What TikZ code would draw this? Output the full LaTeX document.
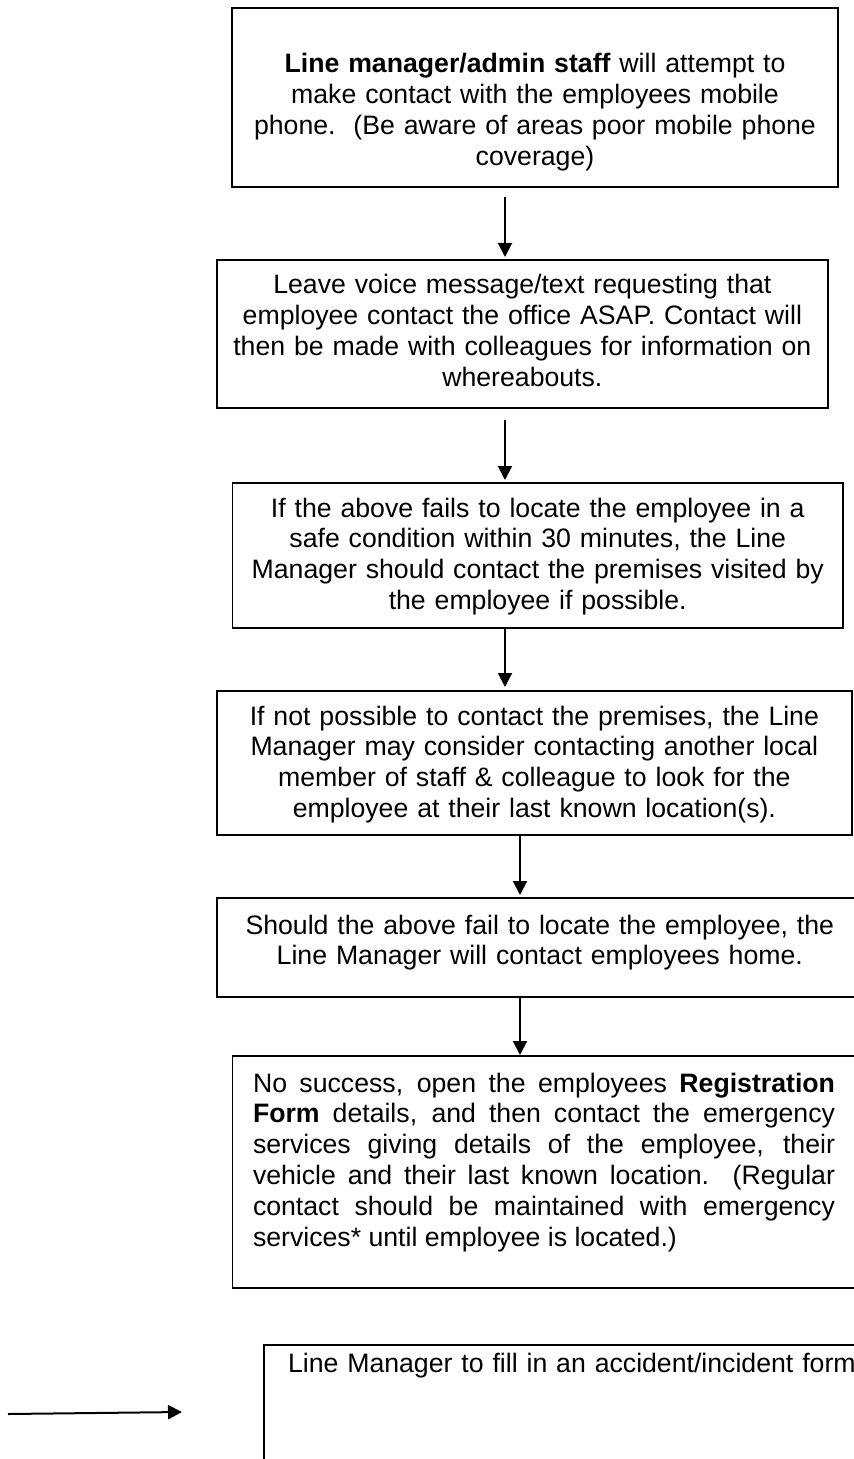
\documentclass[tikz,border=0pt]{standalone}
\usepackage{fontspec}
\setmainfont{Liberation Sans}
\usetikzlibrary{arrows.meta}

\tikzset{
    stepbox/.style={draw, black, line width=0.8pt, rectangle, inner ysep=0pt, outer sep=0pt,
        anchor=north west, font=\fontsize{12pt}{13.86pt}\selectfont},
    flow/.style={black, line width=0.9pt, -{Triangle[length=6.3pt, width=6.3pt]}}
}

\begin{document}
\begin{tikzpicture}[x=0.45pt, y=-0.45pt]
        \useasboundingbox (0, 0) rectangle (854, 1459);
        \clip (0, 0) rectangle (854, 1459);

        \node[stepbox, inner xsep=0pt, text width=272.7pt, align=center, text height=29.25pt, text depth=51.3pt] (mobile) at (232, 8)
            {\textbf{Line manager/admin staff} will attempt to\\ make contact with the employees mobile\\ phone.\ \ (Be aware of areas poor mobile phone\\ coverage)};

        \node[stepbox, inner xsep=0pt, text width=275.1pt, align=center, text height=15.3pt, text depth=51.3pt] (voicemail) at (216.7, 260)
            {Leave voice message/text requesting that\\ employee contact the office ASAP. Contact will\\ then be made with colleagues for information on\\ whereabouts.};

        \node[stepbox, inner xsep=0pt, text width=274.7pt, align=center, text height=15.3pt, text depth=49.95pt] (premises) at (232.5, 483)
            {If the above fails to locate the employee in a\\ safe condition within 30 minutes, the Line\\ Manager should contact the premises visited by\\ the employee if possible.};

        \node[stepbox, inner xsep=0pt, text width=285.9pt, align=center, text height=15.3pt, text depth=49.5pt] (colleague) at (216.7, 691)
            {If not possible to contact the premises, the Line\\ Manager may consider contacting another local\\ member of staff \& colleague to look for the\\ employee at their last known location(s).};

        \node[stepbox, inner xsep=0pt, text width=290.8pt, align=center, text height=16.2pt, text depth=28.35pt] (home) at (216.7, 898)
            {Should the above fail to locate the employee, the\\ Line Manager will contact employees home.};

        \node[stepbox, inner xsep=9.225pt, text width=261.9pt, align=justify, text height=16.2pt, text depth=88.2pt] (emergency) at (232.5, 1056)
            {No success, open the employees \textbf{Registration}\linebreak
             \textbf{Form} details, and then contact the emergency\linebreak
             services giving details of the employee, their\linebreak
             vehicle and their last known location.\ \ (Regular\linebreak
             contact should be maintained with emergency\linebreak
             services* until employee is located.)};

        \node[stepbox, inner xsep=10.8pt, text width=255.6pt, align=left, text height=12.15pt, text depth=48.6pt] (incident) at (264, 1345)
            {Line Manager to fill in an accident/incident form};

        \coordinate (colA) at (505, 0);
        \coordinate (colB) at (520, 0);
        \draw[flow, shorten <=4.5pt, shorten >=1.35pt] (mobile.south -| colA) -- (voicemail.north -| colA);
        \draw[flow, shorten <=5.4pt, shorten >=1.35pt] (voicemail.south -| colA) -- (premises.north -| colA);
        \draw[flow, shorten >=1.8pt] (premises.south -| colA) -- (colleague.north -| colA);
        \draw[flow, shorten >=1.35pt] (colleague.south -| colB) -- (home.north -| colB);
        \draw[flow, shorten >=0.45pt] (home.south -| colB) -- (emergency.north -| colB);

        \coordinate (formstart) at (8, 1414);
        \coordinate (formend) at (182, 1412);
        \draw[flow] (formstart) -- (formend);
    \end{tikzpicture}
\end{document}
